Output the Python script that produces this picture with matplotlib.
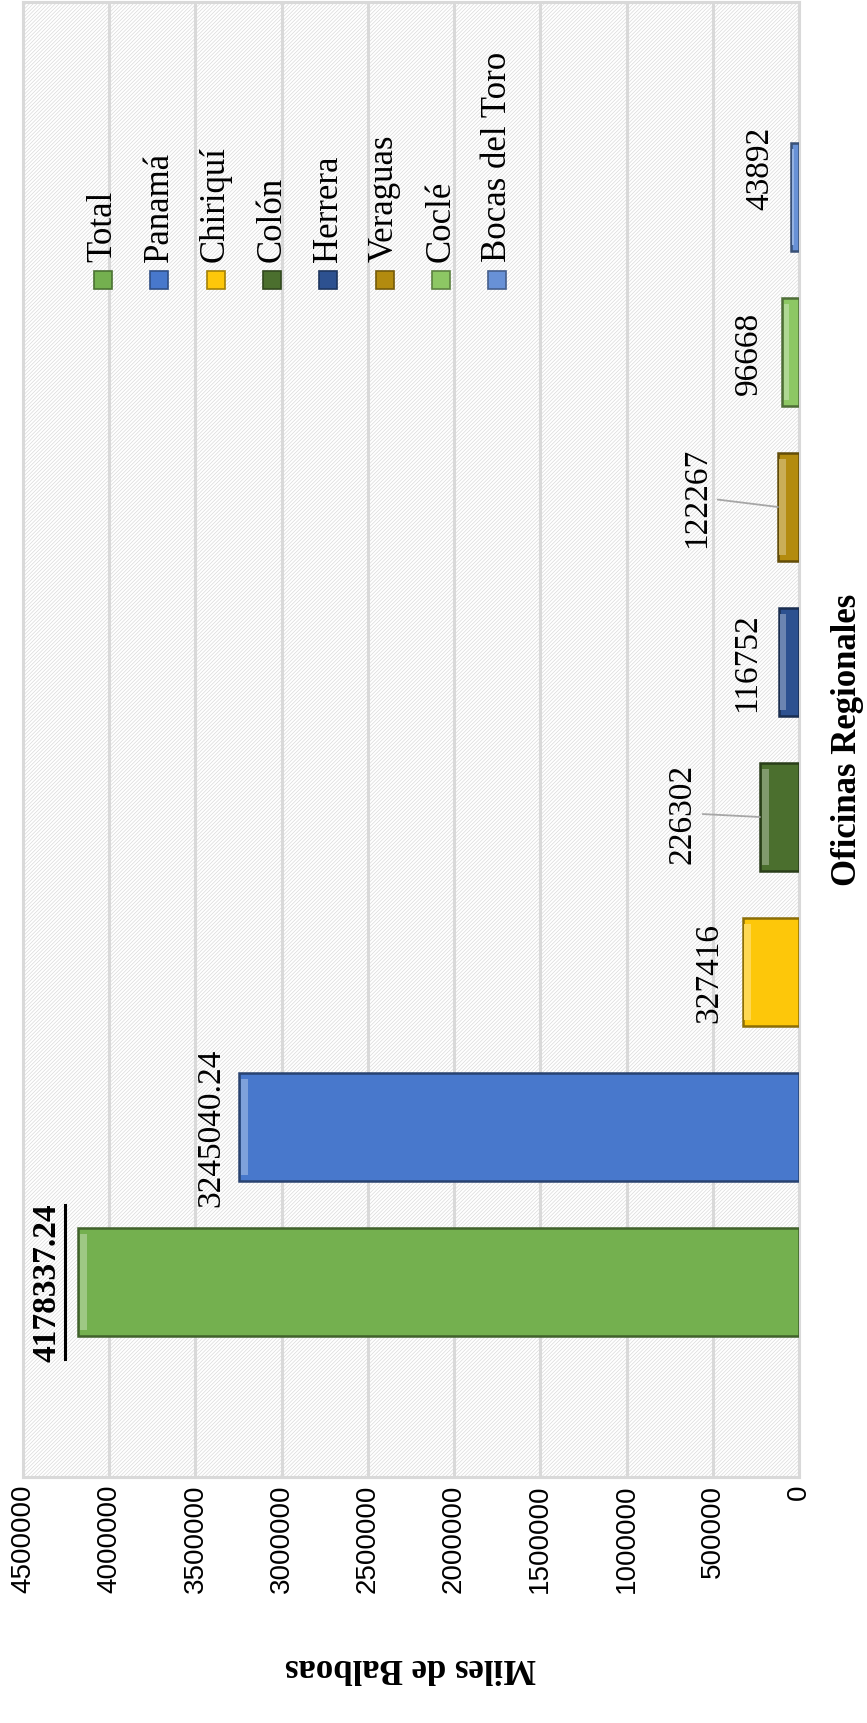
import matplotlib
matplotlib.use('Agg')
import matplotlib.pyplot as plt
from matplotlib.patches import Rectangle
from matplotlib.lines import Line2D
from matplotlib.transforms import IdentityTransform
from matplotlib.colors import to_rgb
import numpy as np

oficinas = ['Total', 'Panamá', 'Chiriquí', 'Colón', 'Herrera', 'Veraguas', 'Coclé', 'Bocas del Toro']
valores = [4178337.24, 3245040.24, 327416, 226302, 116752, 122267, 96668, 43892]
etiquetas = ['4178337.24', '3245040.24', '327416', '226302', '116752', '122267', '96668', '43892']
colores = ['#74B04F', '#4878CC', '#FDC70A', '#4B6F2E', '#2D5190', '#B38B0F', '#8DC764', '#6891D6']
ticks = np.arange(0, 4500001, 500000)

# label offsets from the bar end (pixels)
offs = [(-31, 0), (-28, 0), (-33, 0), (-78, 4), (-32, 0), (-81, 10), (-34, 0), (-31, 30)]
leader = [False, False, False, True, False, True, False, False]

W, H = 867, 1724
serif = ['Liberation Serif', 'DejaVu Serif']
sans = ['Liberation Sans Narrow', 'Liberation Sans', 'DejaVu Sans']
plt.rcParams['hatch.linewidth'] = 0.5


def mix(c, t, f):
    c = np.array(to_rgb(c))
    return tuple(c + (np.array(to_rgb(t)) - c) * f)


fig = plt.figure(figsize=(W / 100, H / 100), dpi=100)
ax = fig.add_axes([23 / W, 1 - 1478 / H, (799 - 23) / W, (1478 - 3) / H])

# hatched plot area
ax.patch.set_facecolor('white')
bg = Rectangle((0, 0), 1, 1, transform=ax.transAxes, facecolor='white',
               edgecolor='#dadada', hatch='/' * 9, lw=0, zorder=0)
ax.add_patch(bg)

pos = np.arange(len(oficinas))
h = 0.70
px_val = 500000 / 86.2   # value per pixel
for i, (v, c) in enumerate(zip(valores, colores)):
    ax.barh(pos[i], v, height=h, color=c, edgecolor=mix(c, 'black', 0.45), lw=1.8, zorder=3)
    strip = min(7 * px_val, 0.3 * v)
    ax.barh(pos[i], strip, left=v - strip * 1.25, height=h * 0.88, color=mix(c, 'white', 0.3),
            lw=0, zorder=4)

ax.set_xlim(4500000, 0)
ax.set_ylim(-1.258, 8.258)
ax.set_xticks(ticks)
ax.set_xticklabels([str(t) for t in ticks], family=sans, fontsize=20, rotation=90)
ax.tick_params(axis='x', length=0, pad=5)
ax.set_yticks([])
ax.grid(axis='x', color='#d9d9d9', lw=2.2, zorder=1)
ax.set_axisbelow(True)
for s in ax.spines.values():
    s.set_color('#d9d9d9')
    s.set_linewidth(2.2)

# data labels
texts = []
for i, v in enumerate(valores):
    dx, dy = offs[i]
    ap = dict(arrowstyle='-', color='#a6a6a6', lw=1.3, shrinkA=2, shrinkB=0) if leader[i] else None
    t = ax.annotate(etiquetas[i], xy=(v, pos[i]), xytext=(dx, dy), textcoords='offset pixels',
                    rotation=90, ha='center', va='center', family=serif, fontsize=24,
                    fontweight='bold' if i == 0 else 'normal', arrowprops=ap, zorder=6)
    texts.append(t)

# legend
for i, (name, c) in enumerate(zip(oficinas, colores)):
    px = 103 + 56.3 * i
    fig.add_artist(Rectangle(((px - 9) / W, 1 - 290 / H), 18 / W, 18 / H,
                             transform=fig.transFigure, facecolor=c,
                             edgecolor=mix(c, 'black', 0.35), lw=1.2))
    fig.text(px / W, 1 - 262 / H, name, rotation=90, ha='center', va='bottom',
             family=serif, fontsize=25)

# axis titles
fig.text(848 / W, 1 - 740 / H, 'Oficinas Regionales', rotation=90, ha='center', va='center',
         family=serif, fontsize=25, fontweight='bold')
fig.text(411 / W, 1 - 1668 / H, 'Miles de Balboas', rotation=180, ha='center', va='center',
         family=serif, fontsize=25, fontweight='bold')

# underline the total label
fig.canvas.draw()
bb = texts[0].get_window_extent()
fig.add_artist(Line2D([bb.x1 + 2, bb.x1 + 2], [bb.y0 + 2, bb.y1 - 2], color='black', lw=2.2,
                      transform=IdentityTransform()))

fig.savefig('out.png', dpi=100)
